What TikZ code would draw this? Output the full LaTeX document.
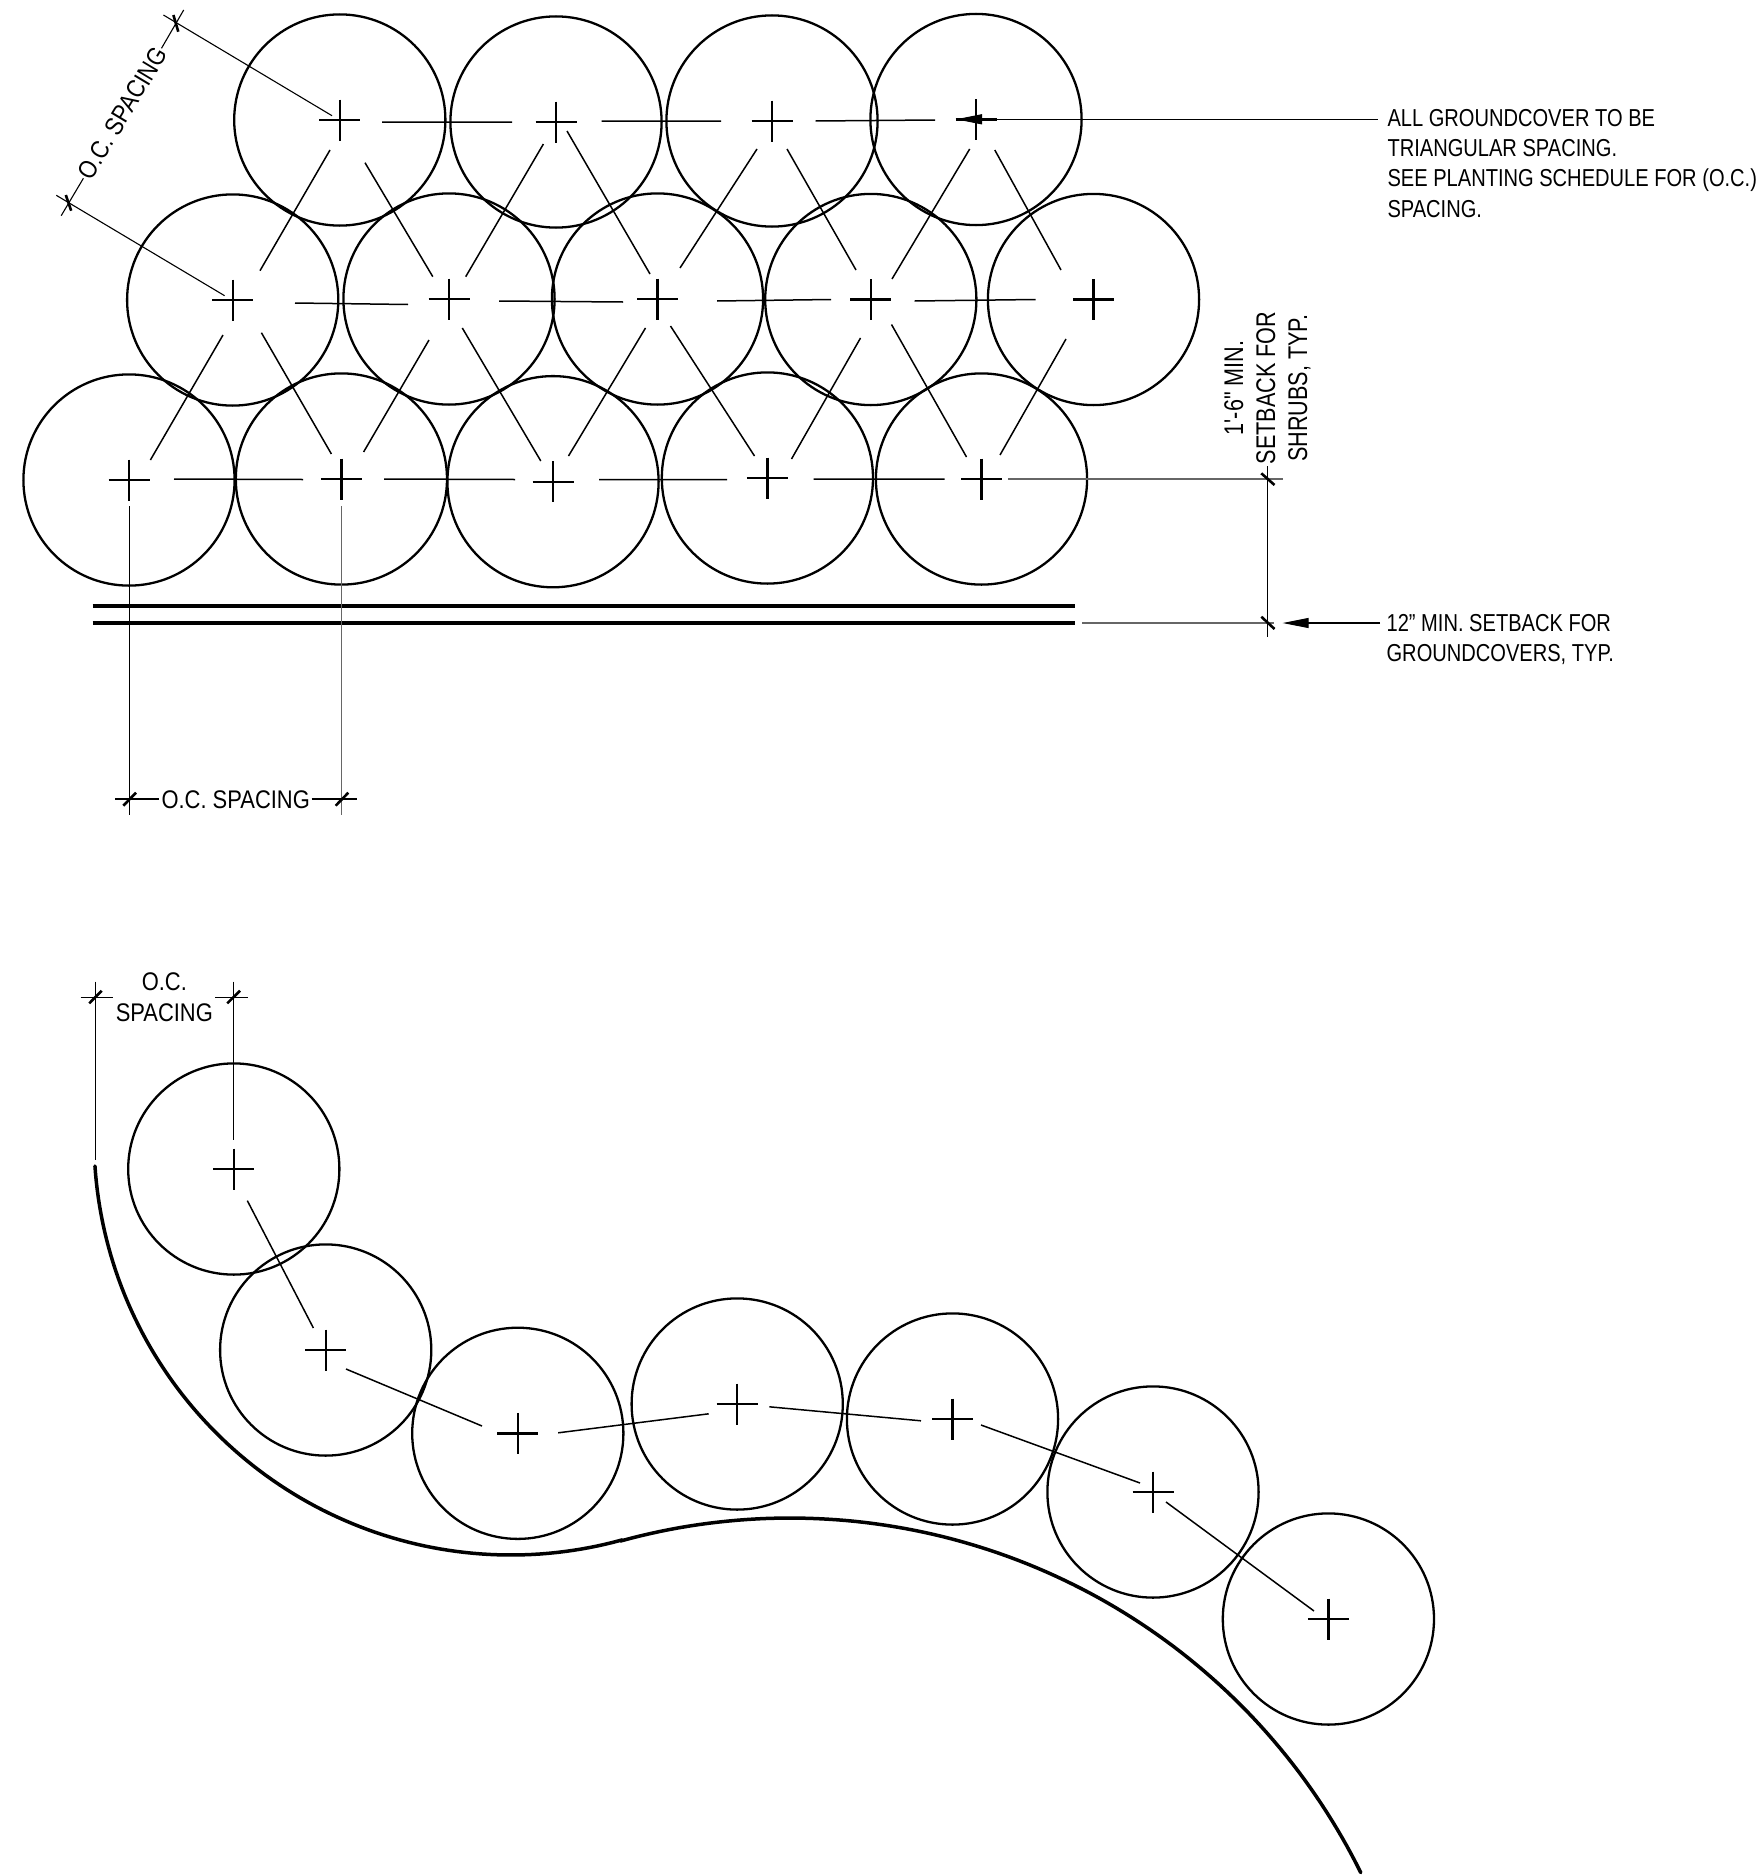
\documentclass[tikz,border=0pt]{standalone}
\usepackage{fontspec}
\setmainfont[FakeStretch=0.82,Ligatures=ResetAll]{Liberation Sans}
\newfontfamily\dimfont[FakeStretch=0.86,Ligatures=ResetAll]{Liberation Sans}
\newfontfamily\rotfont[FakeStretch=0.80,Ligatures=ResetAll]{Liberation Sans}
\usetikzlibrary{arrows.meta}
\tikzset{
  x=1pt,y=-1pt,
  plant/.style={line width=2.3pt,black},
  crossmark/.style={line width=2.4pt,black},
  spacing/.style={line width=1.5pt,black},
  thinline/.style={line width=1.1pt,black},
  greyline/.style={line width=1.2pt,black!60},
  tickmark/.style={line width=2.6pt,black},
  edge/.style={line width=3.5pt,black,line cap=round},
  label/.style={inner sep=0pt,outer sep=0pt,align=left,font=\fontsize{24.5}{30.3}\selectfont},
  dimlabel/.style={inner sep=0pt,outer sep=0pt,align=center,font=\dimfont\fontsize{25.5}{31}\selectfont},
  rotlabel/.style={inner sep=0pt,outer sep=0pt,align=center,rotate=90,font=\rotfont\fontsize{27}{32}\selectfont},
  leader/.style={thinline,-{Triangle[length=26pt,width=10pt]}}
}
\begin{document}
\begin{tikzpicture}
\useasboundingbox (0,0) rectangle (1756,1876);
% plants
\foreach \n/\x/\y in {
 a1/339.8/120,a2/556/122,a3/772/121,a4/976/119.5,
 b1/232.7/300,b2/449/299,b3/657.5/299,b4/870.8/299.5,b5/1093.5/299.5,
 c1/129/480,c2/341.4/479,c3/553/481.7,c4/767.4/478,c5/981.5/479,
 d1/233.8/1169,d2/325.7/1350,d3/517.8/1433.3,d4/737.2/1404,d5/952.5/1419,d6/1153/1492,d7/1328.4/1619}{
  \coordinate (p\n) at (\x,\y);
  \draw[plant] (p\n) circle[radius=105.6pt];
  \draw[crossmark] (p\n) ++(-20.5,0) -- ++(41,0) (p\n) ++(0,-20.5) -- ++(0,41);
}
% horizontal spacing segments
\draw[spacing] (382,122)--(512,122) (601.5,121)--(721,121) (815.5,121)--(935,120);
\draw[spacing] (295,303)--(408,304.5) (499,301)--(623,302) (717,301)--(831,299.5) (914.5,301)--(1035.5,299.5);
\draw[spacing] (174,479)--(303,479.5) (384,479)--(515,479.5) (599,479.5)--(727,479.5) (813.5,479)--(944.5,479);
% diagonal spacing segments
\draw[spacing] (330,150)--(260,270.7) (365,162.7)--(432.8,276.7) (543.4,144)--(465.7,276.7)
 (567,131)--(650,274) (757,149)--(680,268) (787,149)--(856,270) (969.7,149)--(892,279) (994.8,150)--(1061,270);
\draw[spacing] (223,335)--(150.4,460) (261.4,332.7)--(331.4,454) (429,340)--(363.6,452) (462.3,328)--(540.8,461)
 (645.5,328)--(568.5,456) (670.5,326)--(754.5,456) (860.5,338)--(791.5,459) (891.5,324.5)--(966.5,457) (1066,339)--(1000,455);
% lower row
\draw[spacing] (247.3,1200.6)--(313.4,1328) (346,1369)--(482,1426) (558.2,1432.8)--(708.7,1413.8)
 (769.4,1406.8)--(921,1420.8) (981,1425)--(1140,1483) (1166,1502)--(1314,1611);
% double edge
\draw[line width=3.6pt] (92.7,605.7)--(1075,605.7) (92.7,622.7)--(1075,622.7);
% curved edge
\draw[edge] plot[domain=176.15:74.66,samples=90] ({511+417*cos(\x)},{1138+417*sin(\x)})
 -- plot[domain=254.66:333.7,samples=90] ({790+636.7*cos(\x)},{2154.7+636.7*sin(\x)});
% top note
\node[label,anchor=north west] (note1) at (1387.5,109.2) {ALL GROUNDCOVER TO BE\\TRIANGULAR SPACING.\\SEE PLANTING SCHEDULE FOR (O.C.)\\SPACING.};
\coordinate (note1lead) at (1377.6,119.3);
\draw[leader] (note1lead) -- (956,119.3);
% diagonal dimension
\node[dimlabel,rotate=59,anchor=center] (dimdiag) at (122.5,113) {O.C. SPACING};
\draw[thinline] (332,115.7)--(163.4,15) (224.6,295.7)--(56.3,195.3);
\draw[thinline] (183.7,10)--(161.5,48.3) (83.4,178.3)--(61.2,215.7);
\draw[tickmark] (173.4,15)--(178.3,31.7) (65.8,195)--(71.2,210.7);
% bottom dimension of upper group
\node[dimlabel,anchor=base] (dimh) at (235.7,808.3) {O.C. SPACING};
\draw[thinline] (129.3,506)--(129.3,815);
\draw[greyline] (341.7,506)--(341.7,815);
\draw[thinline] (115,799)--(159,799) (311.7,799)--(356.7,799);
\draw[tickmark] (123.3,805.7)--(136,792.7) (335.7,805.7)--(348.3,792.7);
% right dimensions
\node[rotlabel] (noteshrub) at (1267.5,388) {1'-6" MIN.\\SETBACK FOR\\SHRUBS, TYP.};
\draw[thinline] (1267.5,466)--(1267.5,637.3);
\draw[greyline] (1008,479)--(1283,479) (1082,623)--(1274,623);
\draw[tickmark] (1261.3,473.3)--(1274.5,485) (1261.3,616.7)--(1274.5,629);
\node[label,anchor=north west] (note2) at (1386.6,614) {12" MIN. SETBACK FOR\\GROUNDCOVERS, TYP.};
\coordinate (note2lead) at (1380,623);
\draw[leader] (note2lead) -- (1282.6,623);
% lower dimension
\node[dimlabel,anchor=north] (diml) at (164.3,972.7) {O.C.\\SPACING};
\draw[thinline] (95.3,981.7)--(95.3,1160) (233.3,981.7)--(233.3,1140);
\draw[thinline] (80.7,997.3)--(113.3,997.3) (215,997.3)--(248.3,997.3);
\draw[tickmark] (89.3,1003.3)--(101.7,990.7) (227.3,1003.3)--(240,990.7);
\end{tikzpicture}
\end{document}
